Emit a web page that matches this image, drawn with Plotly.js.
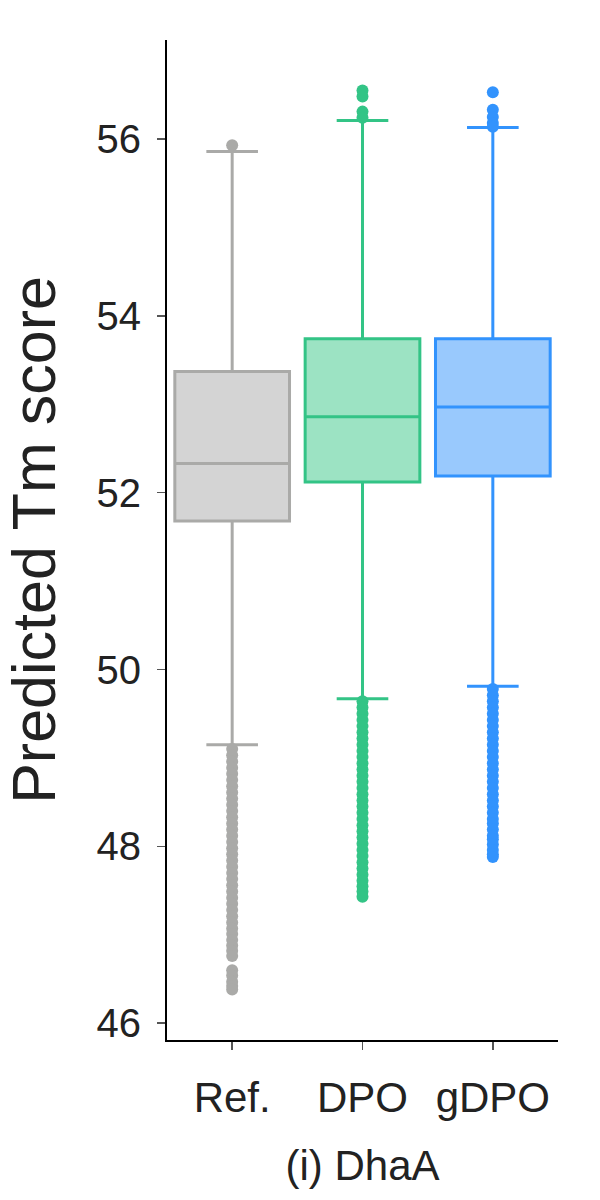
<!DOCTYPE html>
<html>
<head>
<meta charset="utf-8">
<script src="https://cdn.plot.ly/plotly-3.0.1.min.js"></script>
<style>
  html, body { margin: 0; padding: 0; background: #fff; }
  #chart { width: 600px; height: 1200px; }
</style>
</head>
<body>
<div id="chart"></div>
<script>
/* ── DATA ──────────────────────────────── */
const categories = ['Ref.', 'DPO', 'gDPO'];

const q1Vals     = [51.68, 52.12, 52.19];
const medianVals = [52.33, 52.86, 52.97];
const q3Vals     = [53.37, 53.74, 53.74];
const lowerFence = [49.15, 49.67, 49.81];
const upperFence = [55.86, 56.21, 56.13];

// outliers (dense stacks below the lower whisker)
const refOutliers = [
  55.93,
  49.10, 49.03, 48.96, 48.89, 48.82, 48.75, 48.68, 48.61, 48.54, 48.47,
  48.40, 48.33, 48.26, 48.19, 48.12, 48.05, 47.98, 47.91, 47.84, 47.77,
  47.70, 47.63, 47.56, 47.49, 47.42, 47.35, 47.28, 47.21, 47.14, 47.07,
  47.01, 46.94, 46.88, 46.82, 46.76, 46.60, 46.54, 46.47, 46.42, 46.38,
];
const dpoOutliers = [
  56.55, 56.48, 56.31, 56.24,
  49.64, 49.57, 49.50, 49.43, 49.36, 49.29, 49.22, 49.15, 49.08, 49.01,
  48.94, 48.87, 48.80, 48.73, 48.66, 48.59, 48.52, 48.45, 48.38, 48.31,
  48.24, 48.17, 48.10, 48.03, 47.96, 47.89, 47.82, 47.75, 47.68, 47.61,
  47.55, 47.49, 47.43,
];
const gdpoOutliers = [
  56.53, 56.33, 56.25, 56.18, 56.14,
  49.78, 49.71, 49.64, 49.57, 49.50, 49.43, 49.36, 49.29, 49.22, 49.15,
  49.08, 49.01, 48.94, 48.87, 48.80, 48.73, 48.66, 48.59, 48.52, 48.45,
  48.38, 48.31, 48.26, 48.19, 48.12, 48.08, 48.02, 47.96, 47.91, 47.88,
];

/* ── STYLE ─────────────────────────────── */
const lineColors = ['#aaaaa8', '#33c486', '#3293fd'];
const fillColors = ['#d4d4d4', '#9ce3c3', '#99c9fd'];
const FONT = 'Liberation Sans, Arial, Helvetica, sans-serif';

const allOutliers = [refOutliers, dpoOutliers, gdpoOutliers];

const traces = [];
categories.forEach((cat, i) => {
  traces.push({
    type: 'box',
    name: cat,
    x: [cat],
    q1: [q1Vals[i]],
    median: [medianVals[i]],
    q3: [q3Vals[i]],
    lowerfence: [lowerFence[i]],
    upperfence: [upperFence[i]],
    boxpoints: false,
    width: 0.88,
    whiskerwidth: 0.45,
    fillcolor: fillColors[i],
    line: { color: lineColors[i], width: 3 },
    hoverinfo: 'skip',
  });
});
categories.forEach((cat, i) => {
  traces.push({
    type: 'scatter',
    mode: 'markers',
    x: allOutliers[i].map(() => cat),
    y: allOutliers[i],
    marker: { color: lineColors[i], size: 12 },
    hoverinfo: 'skip',
  });
});

const layout = {
  width: 600,
  height: 1200,
  paper_bgcolor: '#ffffff',
  plot_bgcolor: '#ffffff',
  font: { family: FONT, color: '#222222' },
  showlegend: false,
  boxmode: 'overlay',
  margin: { l: 167, r: 42, t: 40, b: 160 },
  xaxis: {
    type: 'category',
    categoryorder: 'array',
    categoryarray: categories,
    range: [-0.5, 2.5],
    showgrid: false,
    zeroline: false,
    showline: true,
    linecolor: '#000000',
    linewidth: 2,
    ticks: 'outside',
    ticklen: 8,
    tickwidth: 1.5,
    tickcolor: '#555555',
    ticklabelstandoff: 12,
    tickfont: { size: 42, family: FONT, color: '#222222' },
    title: { text: '(i) DhaA', font: { size: 42, family: FONT, color: '#222222' }, standoff: 30 },
  },
  yaxis: {
    range: [45.81, 57.12],
    tickvals: [46, 48, 50, 52, 54, 56],
    showgrid: false,
    zeroline: false,
    showline: true,
    linecolor: '#000000',
    linewidth: 2,
    ticks: 'outside',
    ticklen: 8,
    tickwidth: 1.5,
    tickcolor: '#555555',
    ticklabelstandoff: 8,
    tickfont: { size: 40, family: FONT, color: '#222222' },
    title: { text: 'Predicted Tm score', font: { size: 61, family: FONT, color: '#222222' }, standoff: 28 },
  },
};

Plotly.newPlot('chart', traces, layout, { displayModeBar: false, staticPlot: true });
</script>
</body>
</html>
